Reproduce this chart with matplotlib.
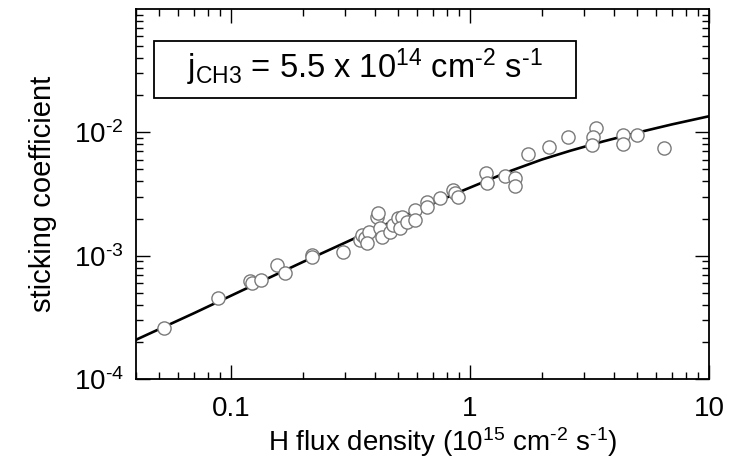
import matplotlib
matplotlib.use("Agg")
import matplotlib.pyplot as plt
from matplotlib.patches import Rectangle
from matplotlib.ticker import LogLocator, NullFormatter, FixedLocator, FixedFormatter

plt.rcParams['font.family'] = ['Liberation Sans', 'DejaVu Sans']
plt.rcParams['mathtext.fontset'] = 'custom'
plt.rcParams['mathtext.rm'] = 'Liberation Sans'
plt.rcParams['mathtext.it'] = 'Liberation Sans:italic'
plt.rcParams['mathtext.bf'] = 'Liberation Sans:bold'

# measured data (H flux density in 1e15 cm^-2 s^-1, sticking coefficient)
flux = [0.0525, 0.0885, 0.120, 0.122, 0.133, 0.155, 0.168, 0.218, 0.218, 0.295,
        0.347, 0.352, 0.364, 0.376, 0.370, 0.407, 0.413, 0.420, 0.427, 0.462,
        0.476, 0.501, 0.517, 0.510, 0.543, 0.589, 0.589, 0.659, 0.659, 0.749,
        0.851, 0.865, 0.893, 1.17, 1.18, 1.40, 1.54, 1.54, 1.75, 2.13,
        2.58, 3.37, 3.28, 3.25, 4.35, 4.35, 5.01, 6.49]
sticking = [2.57e-4, 4.56e-4, 6.2e-4, 6.0e-4, 6.4e-4, 8.35e-4, 7.25e-4, 1.02e-3, 9.7e-4, 1.08e-3,
            1.35e-3, 1.48e-3, 1.39e-3, 1.57e-3, 1.26e-3, 2.07e-3, 2.21e-3, 1.67e-3, 1.43e-3, 1.57e-3,
            1.78e-3, 2.01e-3, 2.07e-3, 1.67e-3, 1.89e-3, 2.35e-3, 1.95e-3, 2.74e-3, 2.50e-3, 2.92e-3,
            3.40e-3, 3.2e-3, 3.0e-3, 4.70e-3, 3.86e-3, 4.42e-3, 4.23e-3, 3.67e-3, 6.65e-3, 7.6e-3,
            9.16e-3, 1.09e-2, 9.2e-3, 7.94e-3, 9.57e-3, 8.1e-3, 9.57e-3, 7.4e-3]

# model curve
curve_x = [0.04, 0.07, 0.12, 0.2, 0.32, 0.55, 0.908, 1.47, 2.0, 2.62, 3.6, 5.0, 7.0, 10.0]
curve_y = [2.08e-4, 3.42e-4, 5.6e-4, 8.9e-4, 1.35e-3, 2.16e-3, 3.3e-3, 4.85e-3, 6.02e-3,
           7.08e-3, 8.43e-3, 9.93e-3, 1.16e-2, 1.35e-2]

x_ticks = [0.1, 1, 10]
x_tick_labels = ['0.1', '1', '10']
y_ticks = [1e-4, 1e-3, 1e-2]
y_tick_labels = [r'10$^{\text{-4}}$', r'10$^{\text{-3}}$', r'10$^{\text{-2}}$']

box_text = r'j$_{\text{CH3}}$ = 5.5 x 10$^{\text{14}}$ cm$^{\text{-2}}$ s$^{\text{-1}}$'
x_label = r'H flux density (10$^{\text{15}}$ cm$^{\text{-2}}$ s$^{\text{-1}}$)'
y_label = 'sticking coefficient'

fig = plt.figure(figsize=(7.33, 4.63), dpi=100)
ax = fig.add_axes([136/733, 1-379/463, 573/733, 370/463])
ax.set_xscale('log')
ax.set_yscale('log')
ax.set_xlim(0.04, 10)
ax.set_ylim(1e-4, 0.1)

ax.plot(curve_x, curve_y, color='black', lw=1.9, zorder=2)
ax.plot(flux, sticking, linestyle='none', marker='o', ms=9.5, mfc='white',
        mec='#7a7a7a', mew=1.0, zorder=3)

ax.xaxis.set_major_locator(FixedLocator(x_ticks))
ax.xaxis.set_major_formatter(FixedFormatter(x_tick_labels))
ax.yaxis.set_major_locator(FixedLocator(y_ticks))
ax.yaxis.set_major_formatter(FixedFormatter(y_tick_labels))
ax.xaxis.set_minor_locator(LogLocator(base=10, subs=range(2, 10), numticks=20))
ax.yaxis.set_minor_locator(LogLocator(base=10, subs=range(2, 10), numticks=20))
ax.xaxis.set_minor_formatter(NullFormatter())
ax.yaxis.set_minor_formatter(NullFormatter())

ax.tick_params(which='both', direction='in', top=True, right=True, width=1.0, color='black')
ax.tick_params(which='major', length=10)
ax.tick_params(which='minor', length=5)
ax.tick_params(axis='x', which='major', labelsize=20, pad=12)
ax.tick_params(axis='y', which='major', labelsize=20, pad=9)
for s in ax.spines.values():
    s.set_linewidth(1.3)

ax.set_xlabel(x_label, fontsize=20)
ax.xaxis.set_label_coords((443-136)/573, -0.17)
ax.xaxis.label.set_verticalalignment('center')
ax.set_ylabel(y_label, fontsize=21, labelpad=12)

x0 = (154-136)/573
x1 = (576-136)/573
y0 = (379-98)/370
y1 = (379-41)/370
ax.add_patch(Rectangle((x0, y0), x1-x0, y1-y0, transform=ax.transAxes,
                       facecolor='white', edgecolor='black', lw=1.3, zorder=4))
ax.text((x0+x1)/2, (y0+y1)/2 + 0.005, box_text, transform=ax.transAxes, fontsize=23.5,
        ha='center', va='center', zorder=5)

fig.savefig('out.png', dpi=100)
